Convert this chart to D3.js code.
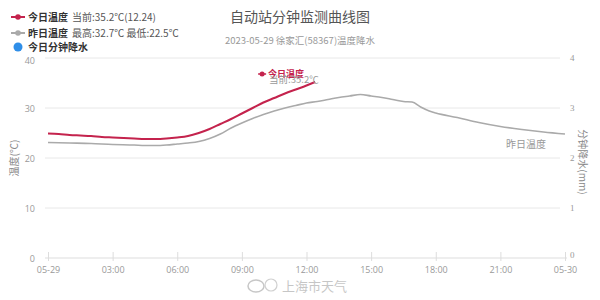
<!DOCTYPE html>
<html><head><meta charset="utf-8">
<script src="https://cdn.jsdelivr.net/npm/d3@7"></script>
<style>
html,body{margin:0;padding:0;background:#fff;}
svg{display:block;font-family:"Noto Sans CJK SC","Noto Sans",sans-serif;}
</style></head>
<body><svg id="c" width="600" height="300"></svg>
<script>
const titleText = "自动站分钟监测曲线图";
const subtitleText = "2023-05-29 徐家汇(58367)温度降水";
const xTickHours = [0,3,6,9,12,15,18,21,24];
const xTickLabels = ["05-29","03:00","06:00","09:00","12:00","15:00","18:00","21:00","05-30"];
const yTicks = [0,10,20,30,40];
const rTicks = [0,1,2,3,4];

const todayHours = [0,0.5,1,1.5,2,2.5,3,3.5,4,4.5,5,5.5,6,6.5,7,7.5,8,8.5,9,9.5,10,10.5,11,11.5,12,12.4];
const todayTemp  = [24.9,24.8,24.6,24.5,24.4,24.2,24.1,24.0,23.9,23.8,23.8,23.9,24.1,24.4,25.0,25.8,26.8,27.8,28.9,30.0,31.1,32.0,32.9,33.7,34.5,35.2];

const yestHours = [0,1,2,3,4,4.5,5,5.5,6,6.5,7,7.5,8,8.5,9,9.5,10,10.5,11,11.5,12,12.5,13,13.5,14,14.5,15,15.5,16,16.5,16.9,17.3,17.7,18,19,20,21,22,23,24];
const yestTemp  = [23.1,23.0,22.9,22.7,22.6,22.5,22.5,22.6,22.8,23.0,23.3,23.9,24.8,26.0,27.0,27.9,28.7,29.4,30.0,30.5,31.0,31.3,31.7,32.1,32.4,32.7,32.4,32.1,31.7,31.3,31.2,30.2,29.4,29.0,28.1,27.1,26.3,25.7,25.2,24.8];

const legendToday = ["今日温度","当前:35.2℃(12.24)"];
const legendYest = ["昨日温度","最高:32.7℃ 最低:22.5℃"];
const legendRain = "今日分钟降水";
const currentLabel = "当前:35.2℃";

const svg = d3.select("#c");
const red = "#c4234d", grey = "#aaaaaa", blue = "#2f8ee8";

const x = d3.scaleLinear().domain([0,24]).range([48,565]);
const y = d3.scaleLinear().domain([0,40]).range([258,58]);
const yr = d3.scaleLinear().domain([0,4]).range([258,58]);

// grid
svg.append("g").selectAll("line").data(yTicks.filter(d=>d>0)).join("line")
  .attr("x1",45).attr("x2",560).attr("y1",d=>y(d)).attr("y2",d=>y(d))
  .attr("stroke","#e8e8e8").attr("stroke-width",1);

// x axis
const xAxis = d3.axisBottom(x).tickValues(xTickHours).tickFormat((d,i)=>xTickLabels[i]).tickSize(5).tickPadding(4);
const gx = svg.append("g").attr("transform","translate(0,258)").call(xAxis);
gx.select(".domain").attr("stroke","#ddd").attr("d","M45,0H567");
gx.selectAll(".tick line").attr("stroke","#ddd").attr("y1",-6).attr("y2",3);
gx.selectAll("text").attr("fill","#999").attr("font-size",9).attr("font-family","'Open Sans','Noto Sans',sans-serif");

// left axis
const yAxis = d3.axisLeft(y).tickValues(yTicks).tickFormat(d3.format("d")).tickSize(0).tickPadding(0);
const gy = svg.append("g").attr("transform","translate(35,1)").call(yAxis);
gy.select(".domain").remove();
gy.selectAll("text").attr("fill","#999").attr("font-size",9).attr("font-family","'Open Sans','Noto Sans',sans-serif");
gy.selectAll(".tick").filter(d=>d===40).select("text").attr("dy","0.5em");

// right axis
const rAxis = d3.axisRight(yr).tickValues(rTicks).tickFormat(d3.format("d")).tickSize(0).tickPadding(0);
const gr = svg.append("g").attr("transform","translate(570,0)").call(rAxis);
gr.select(".domain").remove();
gr.selectAll("text").attr("fill","#999").attr("font-size",9).attr("font-family","'Liberation Serif',serif");
gr.selectAll(".tick").filter(d=>d===0).select("text").attr("dy","-0.1em");

// axis titles
svg.append("text").attr("transform","translate(18,158) rotate(-90)").attr("text-anchor","middle")
  .attr("font-size",10).attr("fill","#888").text("温度(℃)");
svg.append("text").attr("transform","translate(579,162) rotate(90)").attr("text-anchor","middle")
  .attr("font-size",10).attr("fill","#888").text("分钟降水(mm)");

// lines
const yestData = yestHours.map((h,i)=>[h,yestTemp[i]]);
const todayData = todayHours.map((h,i)=>[h,todayTemp[i]]);
const line = d3.line().x(d=>x(d[0])).y(d=>y(d[1])).curve(d3.curveMonotoneX);
svg.append("path").datum(yestData).attr("d",line).attr("fill","none").attr("stroke",grey).attr("stroke-width",1.6);
svg.append("path").datum(todayData).attr("d",line).attr("fill","none").attr("stroke",red).attr("stroke-width",2);

// end labels
const lastT = todayData[todayData.length-1];
const lx = x(lastT[0]) - 53, ly = y(lastT[1]) - 8;
svg.append("line").attr("x1",lx-4).attr("x2",lx+4).attr("y1",ly).attr("y2",ly).attr("stroke",red).attr("stroke-width",1.5);
svg.append("circle").attr("cx",lx).attr("cy",ly).attr("r",2.5).attr("fill",red);
svg.append("text").attr("x",lx+6).attr("y",ly).attr("dy","0.35em").attr("font-size",9).attr("font-weight","bold").attr("fill",red).text(legendToday[0]);
svg.append("text").attr("x",lx+7).attr("y",ly+6).attr("dy","0.35em").attr("font-size",9.5).attr("fill","#999").text(currentLabel);

const lastY = yestData[yestData.length-1];
svg.append("text").attr("x",x(lastY[0])-19).attr("y",y(lastY[1])+10).attr("dy","0.35em").attr("text-anchor","end")
  .attr("font-size",10).attr("fill","#999").text("昨日温度");

// title
svg.append("text").attr("x",300).attr("y",17).attr("dy","0.35em").attr("text-anchor","middle").attr("font-size",14).attr("fill","#555").text(titleText);
svg.append("text").attr("x",300).attr("y",41).attr("dy","0.35em").attr("text-anchor","middle").attr("font-size",9.5).attr("fill","#999").text(subtitleText);

// legend
const lg = svg.append("g");
function legendRow(yy, color, texts){
  lg.append("line").attr("x1",11).attr("x2",25).attr("y1",yy).attr("y2",yy).attr("stroke",color).attr("stroke-width",2);
  lg.append("circle").attr("cx",18).attr("cy",yy).attr("r",2.8).attr("fill",color);
  lg.append("text").attr("x",28).attr("y",yy).attr("dy","0.35em").attr("font-size",10).attr("font-weight","bold").attr("fill","#333").text(texts[0]);
  lg.append("text").attr("x",72).attr("y",yy).attr("dy","0.35em").attr("font-size",10).attr("fill","#555").text(texts[1]);
}
legendRow(17, red, legendToday);
legendRow(33, grey, legendYest);
lg.append("circle").attr("cx",18).attr("cy",47).attr("r",4.5).attr("fill",blue);
lg.append("text").attr("x",28).attr("y",47).attr("dy","0.35em").attr("font-size",10).attr("font-weight","bold").attr("fill","#333").text(legendRain);

// watermark
const wm = svg.append("g").attr("opacity",0.55);
wm.append("ellipse").attr("cx",256).attr("cy",286).attr("rx",8).attr("ry",6).attr("fill","none").attr("stroke","#999").attr("stroke-width",1.5);
wm.append("circle").attr("cx",271).attr("cy",285).attr("r",6).attr("fill","none").attr("stroke","#aaa").attr("stroke-width",1.2);
wm.append("text").attr("x",282).attr("y",286).attr("dy","0.35em").attr("font-size",13).attr("fill","#999").text("上海市天气");
</script></body></html>
